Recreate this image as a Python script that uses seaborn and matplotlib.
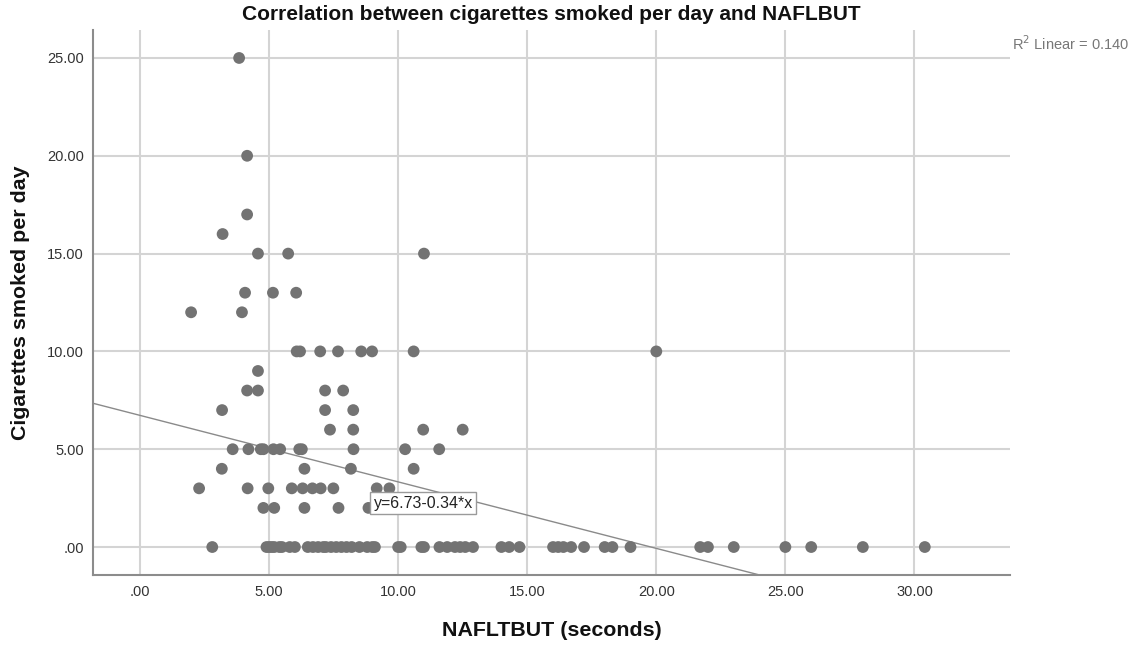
import numpy as np
import pandas as pd
import matplotlib
matplotlib.use("Agg")
import matplotlib.pyplot as plt
import seaborn as sns

# ---- data ----
y25 = [3.84]
y20 = [4.15]
y17 = [4.15]
y16 = [3.2]
y15 = [4.57, 5.74, 11.0]
y13 = [4.07, 5.15, 6.05]
y12 = [1.98, 3.95]
y10 = [6.07, 6.2, 6.98, 7.67, 8.57, 8.99, 10.6, 20.0]
y9 = [4.57]
y8 = [4.15, 4.57, 7.17, 7.87]
y7 = [3.18, 7.17, 8.26]
y6 = [7.36, 8.26, 10.97, 12.5]
y5 = [3.59, 4.2, 4.68, 4.78, 5.17, 5.43, 6.17, 6.27, 8.27, 10.27, 11.59]
y4 = [3.17, 6.37, 8.17, 10.6]
y3 = [2.29, 4.17, 4.97, 5.88, 6.3, 6.68, 7.0, 7.49, 9.17, 9.66]
y2 = [4.78, 5.2, 6.37, 7.69, 8.85]
y0 = [2.8, 4.9, 5.0, 5.1, 5.2, 5.4, 5.5, 5.8, 6.0, 6.5, 6.7, 6.9, 7.1, 7.2, 7.4,
      7.6, 7.8, 8.0, 8.2, 8.5, 8.8, 9.0, 9.1, 10.0, 10.1, 10.9, 11.0, 11.6, 11.9,
      12.2, 12.4, 12.6, 12.9, 14.0, 14.3, 14.7, 16.0, 16.2, 16.4, 16.7, 17.2,
      18.0, 18.3, 19.0, 21.7, 22.0, 23.0, 25.0, 26.0, 28.0, 30.4]

rows = {25: y25, 20: y20, 17: y17, 16: y16, 15: y15, 13: y13, 12: y12, 10: y10,
        9: y9, 8: y8, 7: y7, 6: y6, 5: y5, 4: y4, 3: y3, 2: y2, 0: y0}

fit_intercept = 6.73
fit_slope = -0.34
r2_text = "R$^2$ Linear = 0.140"
fit_text = "y=6.73-0.34*x"

x_ticks = [0, 5, 10, 15, 20, 25, 30]
x_ticklabels = [".00", "5.00", "10.00", "15.00", "20.00", "25.00", "30.00"]
y_ticks = [0, 5, 10, 15, 20, 25]
y_ticklabels = [".00", "5.00", "10.00", "15.00", "20.00", "25.00"]

xs, ys = [], []
for yv, lst in rows.items():
    for xv in lst:
        xs.append(xv)
        ys.append(yv)
df = pd.DataFrame({"NAFLTBUT": xs, "Cigs": ys})

# ---- plot ----
sns.set_style("white")
plt.rcParams['font.family'] = ['Liberation Sans', 'DejaVu Sans']

fig = plt.figure(figsize=(11.39, 6.45), dpi=100)
ax = fig.add_axes([93 / 1139, 1 - 575 / 645, (1010 - 93) / 1139, (575 - 30) / 645])

ax.set_xlim(-1.82, 33.7)
ax.set_ylim(-1.43, 26.43)

ax.set_xticks(x_ticks)
ax.set_xticklabels(x_ticklabels)
ax.set_yticks(y_ticks)
ax.set_yticklabels(y_ticklabels)
ax.grid(True, color="#d4d4d4", linewidth=1.5, zorder=0)
ax.set_axisbelow(True)

ax.axline((0, fit_intercept), slope=fit_slope, color="#8a8a8a", linewidth=1.0, zorder=2)

sns.scatterplot(data=df, x="NAFLTBUT", y="Cigs", ax=ax, color="#737373",
                s=72, edgecolor="none", linewidth=0, zorder=3)

ax.text(9.05, 2.25, fit_text, fontsize=11.5, color="#222222", ha="left", va="center",
        zorder=5, bbox=dict(boxstyle="square,pad=0.2", facecolor="white",
                            edgecolor="#9a9a9a", linewidth=1.0))

for side in ["top", "right"]:
    ax.spines[side].set_visible(False)
for side in ["left", "bottom"]:
    ax.spines[side].set_color("#8c8c8c")
    ax.spines[side].set_linewidth(1.5)

ax.tick_params(axis="both", length=0, labelsize=10.5, labelcolor="#333333")
ax.tick_params(axis="y", pad=6.5)
ax.tick_params(axis="x", pad=7.5)

ax.set_xlabel("NAFLTBUT (seconds)", fontsize=15.4, fontweight="bold", color="#111111")
ax.xaxis.set_label_coords(0.5, -0.085)
ax.set_ylabel("Cigarettes smoked per day", fontsize=15.4, fontweight="bold", color="#111111")
ax.yaxis.set_label_coords(-0.069, 0.5)
ax.set_title("Correlation between cigarettes smoked per day and NAFLBUT",
             fontsize=15, fontweight="bold", pad=7, color="#111111")

fig.text(1012 / 1139, 1 - 44 / 645, r2_text, fontsize=10.5, color="#777777", ha="left", va="center")

fig.savefig("out.png", dpi=100, facecolor="white")
